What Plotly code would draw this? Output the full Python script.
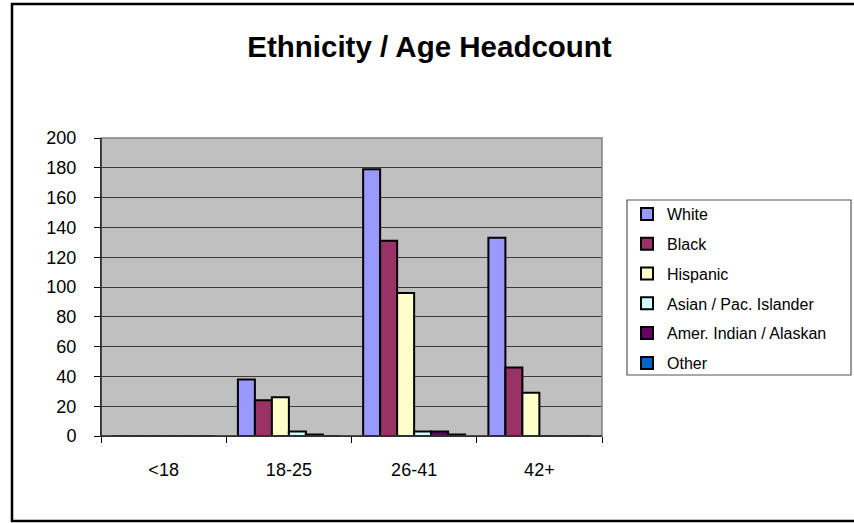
import plotly.graph_objects as go

categories = ["<18", "18-25", "26-41", "42+"]
series_names = ["White", "Black", "Hispanic", "Asian / Pac. Islander",
                "Amer. Indian / Alaskan", "Other"]
white = [0, 38, 179, 133]
black = [0, 24, 131, 46]
hispanic = [0, 26, 96, 29]
asian = [0, 3, 3, 0]
amer_indian = [0, 1, 3, 0]
other = [0, 0, 1, 0]
series_values = [white, black, hispanic, asian, amer_indian, other]
colors = ["#9999FF", "#993366", "#FFFFCC", "#CCFFFF", "#660066", "#0066CC"]
y_ticks = list(range(0, 201, 20))

FONT = "Liberation Sans, Arial, sans-serif"

fig = go.Figure()
for i, (name, vals, col) in enumerate(zip(series_names, series_values, colors)):
    fig.add_trace(go.Bar(
        x=categories, y=vals, name=name,
        marker=dict(color=col, line=dict(color="black", width=2)),
        legendgroup=f"g{i}",
    ))

W, H = 854, 523
L, R, T, B = 101, 602, 138, 436
pw, ph = R - L, B - T


def px(xp):
    return (xp - L) / pw


def py(yp):
    return (B - yp) / ph


fig.update_layout(
    width=W, height=H,
    margin=dict(l=L, r=W - R, t=T, b=H - B, pad=0),
    paper_bgcolor="white",
    plot_bgcolor="#C0C0C0",
    barmode="group",
    bargap=0.186,
    bargroupgap=0,
    font=dict(family=FONT, color="black", size=18),
    title=dict(text="<b>Ethnicity / Age Headcount</b>",
               font=dict(family=FONT, size=29.5, color="black"),
               x=429.5 / W, xanchor="center",
               y=1 - 47 / H, yanchor="middle"),
    showlegend=True,
    legend=dict(
        x=px(627), xanchor="left", y=py(197), yanchor="top",
        font=dict(family=FONT, size=16, color="black"),
        bgcolor="rgba(0,0,0,0)", borderwidth=0,
        traceorder="grouped", tracegroupgap=6,
    ),
    xaxis=dict(
        type="category", showgrid=False, showline=True, linecolor="black", linewidth=1,
        ticks="outside", tickson="boundaries", ticklen=6, tickcolor="black",
        ticklabelstandoff=17, tickfont=dict(size=18),
    ),
    yaxis=dict(
        range=[0, 200], tickvals=y_ticks, showgrid=True, gridcolor="#3a3a3a",
        gridwidth=1, showline=True, linecolor="black", linewidth=1,
        ticks="outside", ticklen=6, tickcolor="black", ticklabelstandoff=14,
        tickfont=dict(size=18), zeroline=False,
    ),
    shapes=[
        dict(type="rect", xref="paper", yref="paper", x0=0, x1=1, y0=0, y1=1,
             line=dict(color="#808080", width=1.5), layer="above"),
        dict(type="rect", xref="paper", yref="paper",
             x0=px(627), x1=px(851), y0=py(375), y1=py(200),
             line=dict(color="#555555", width=1.2)),
        dict(type="rect", xref="paper", yref="paper",
             x0=px(12), x1=px(870), y0=py(521), y1=py(4),
             line=dict(color="black", width=2.5)),
    ],
)
fig.add_shape(type="line", xref="paper", yref="paper", x0=0, x1=0, y0=0, y1=1,
              line=dict(color="black", width=1), layer="above")
fig.add_shape(type="line", xref="paper", yref="paper", x0=0, x1=1, y0=0, y1=0,
              line=dict(color="black", width=1), layer="above")

fig.write_html(
    "out.html",
    config={"displayModeBar": False},
    post_script="document.body.style.margin='0';document.body.style.overflow='hidden';",
)
